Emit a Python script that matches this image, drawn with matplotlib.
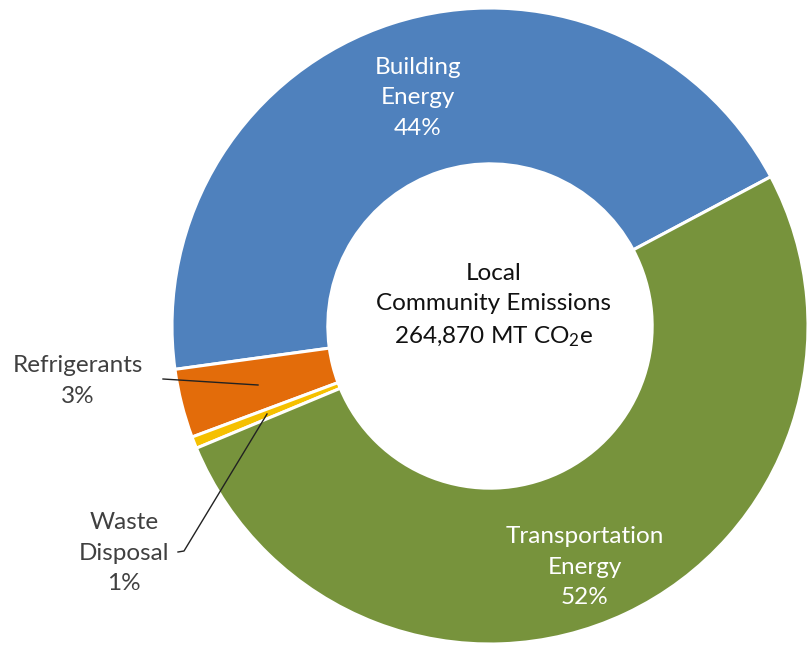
import matplotlib
matplotlib.use("Agg")
import matplotlib.pyplot as plt

plt.rcParams['font.family'] = ['Lato', 'DejaVu Sans']
plt.rcParams['mathtext.default'] = 'regular'

categories = ["Building Energy", "Refrigerants", "Waste Disposal", "Transportation Energy"]
values = [44.4, 3.5, 0.6, 51.5]
pct_labels = ["44%", "3%", "1%", "52%"]
colors = ["#4F81BD", "#E36C0A", "#F5C000", "#77933C"]
center_title = ["Local", "Community Emissions", "264,870 MT CO$_2$e"]

W, H = 808, 646
fig = plt.figure(figsize=(W / 100, H / 100), dpi=100)
ax = fig.add_axes([0, 0, 1, 1])

cx, cy = 490, H - 326
R = 318
wedges, _ = ax.pie(values, colors=colors, startangle=28, counterclock=True,
                   center=(cx, cy), radius=R,
                   wedgeprops=dict(width=R * 0.49, edgecolor='white', linewidth=2.2),
                   frame=True)
ax.set_xlim(0, W)
ax.set_ylim(0, H)
ax.set_aspect('equal')
ax.axis('off')

def Y(y):
    return H - y

fs = 17.5
ls = 1.57
ax.text(418, Y(98), "Building\nEnergy\n" + pct_labels[0], ha='center', va='center',
        color='white', fontsize=fs, linespacing=ls)
ax.text(585, Y(567), "Transportation\nEnergy\n" + pct_labels[3], ha='center', va='center',
        color='white', fontsize=fs, linespacing=ls)
ax.text(78, Y(381), "Refrigerants\n" + pct_labels[1], ha='center', va='center',
        color='#404040', fontsize=fs, linespacing=ls)
ax.text(124, Y(553), "Waste\nDisposal\n" + pct_labels[2], ha='center', va='center',
        color='#404040', fontsize=fs, linespacing=ls)

ax.text(494, Y(306), "\n".join(center_title), ha='center', va='center',
        color='#111111', fontsize=fs, linespacing=ls)

# leader lines
ax.plot([163, 258], [Y(379), Y(385)], color='#222222', lw=1)
ax.plot([178, 184, 267], [Y(552), Y(551), Y(414)], color='#222222', lw=1)

fig.savefig("out.png", dpi=100, facecolor='white')
